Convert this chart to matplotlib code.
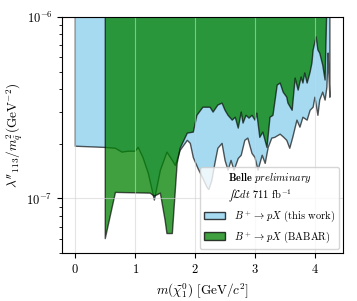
import numpy as np
import matplotlib
matplotlib.use("Agg")
import matplotlib.pyplot as plt
from matplotlib.patches import Patch

plt.rcParams['font.family'] = 'serif'
plt.rcParams['font.serif'] = ['cmr10']
plt.rcParams['mathtext.fontset'] = 'cm'
plt.rcParams['axes.formatter.use_mathtext'] = True

# Belle, this work (upper limit vs mass)
belle_m = [0.00, 0.50, 0.67, 0.78, 0.88, 1.00, 1.05, 1.13, 1.22, 1.32, 1.42, 1.53, 1.62, 1.67,
           1.75, 1.87, 1.92, 1.97, 2.05, 2.13, 2.20, 2.23, 2.28, 2.33, 2.38, 2.45, 2.50, 2.55,
           2.60, 2.65, 2.72, 2.77, 2.83, 2.88, 2.95, 3.00, 3.05, 3.12, 3.17, 3.22, 3.28, 3.33,
           3.42, 3.48, 3.53, 3.58, 3.63, 3.70, 3.75, 3.80, 3.87, 3.92, 3.97, 4.00, 4.05, 4.08,
           4.13, 4.17, 4.20, 4.22, 4.23, 4.25]
belle_lim = [1.94, 1.91, 1.89, 1.80, 1.82, 1.82, 1.91, 1.68, 1.37, 0.98, 1.43, 1.80, 1.62, 1.52,
             1.84, 2.09, 2.01, 1.68, 1.46, 1.29, 1.15, 1.12, 1.26, 1.56, 1.89, 2.01, 1.62, 1.43,
             1.62, 1.43, 1.66, 1.73, 2.09, 2.15, 1.77, 1.68, 1.43, 1.73, 1.56, 1.91, 2.15, 2.17,
             2.26, 2.17, 2.09, 1.89, 2.17, 2.70, 2.47, 2.80, 2.70, 3.06, 3.18, 3.61, 2.87, 3.48,
             3.85, 3.48, 4.10, 6.32, 5.09, 3.61]

# BABAR limit
babar_m = [0.50, 0.67, 1.25, 1.32, 1.42, 1.50, 1.53, 1.62, 1.70, 1.75, 1.87, 1.97, 2.03, 2.13,
           2.25, 2.30, 2.38, 2.45, 2.50, 2.55, 2.62, 2.67, 2.72, 2.77, 2.80, 2.85, 2.90, 2.95,
           3.00, 3.03, 3.08, 3.13, 3.20, 3.25, 3.30, 3.37, 3.42, 3.47, 3.53, 3.55, 3.62, 3.67,
           3.72, 3.77, 3.80, 3.83, 3.87, 3.92, 3.95, 3.97, 4.02, 4.05, 4.08, 4.13, 4.17, 4.20]
babar_lim = [0.601, 1.08, 1.07, 1.03, 1.07, 0.756, 0.641, 0.641, 1.56, 1.89, 2.29, 2.32, 2.87, 3.18,
             3.18, 2.99, 3.27, 3.35, 3.06, 2.87, 2.70, 2.80, 2.44, 2.99, 2.60, 2.87, 2.77, 2.87,
             2.70, 2.95, 2.17, 2.32, 1.91, 2.80, 2.87, 4.21, 4.32, 3.85, 3.61, 3.35, 3.06, 4.60,
             3.95, 4.66, 4.32, 4.91, 4.32, 4.97, 5.57, 6.57, 7.75, 6.57, 6.32, 5.43, 4.49, 12.0]

belle_m = np.array(belle_m)
belle_lim = np.array(belle_lim) * 1e-7
babar_m = np.array(babar_m)
babar_lim = np.array(babar_lim) * 1e-7
top = 1e-5

fig = plt.figure(figsize=(3.57, 3.01), dpi=100)
ax = fig.add_axes([0.174, 0.159, 0.787, 0.785])

edge = (0, 0, 0, 0.65)
ax.fill_between(belle_m, belle_lim, top, facecolor='skyblue', alpha=0.75, lw=0)
ax.fill_between(belle_m, belle_lim, top, facecolor='none', edgecolor=edge, lw=1.0)
ax.fill_between(babar_m, babar_lim, top, facecolor='green', alpha=0.75, lw=0)
ax.fill_between(babar_m, babar_lim, top, facecolor='none', edgecolor=edge, lw=1.0)

ax.set_yscale('log')
ax.set_xlim(-0.22, 4.47)
ax.set_ylim(5e-8, 1e-6)
ax.set_xticks([0, 1, 2, 3, 4])
ax.grid(True, which='major', color='lightgrey', alpha=0.6, lw=0.8)
ax.tick_params(labelsize=9)

ax.set_xlabel(r'$m(\widetilde{\chi}^0_1)$ [GeV$/c^2$]', fontsize=9.5)
ax.set_ylabel(r"$\lambda''_{113}/m^2_{\tilde{q}}(\mathrm{GeV}^{-2})$", fontsize=9.5, labelpad=1)

handles = [Patch(facecolor='skyblue', alpha=0.75, edgecolor='k', lw=1.0),
           Patch(facecolor='green', alpha=0.75, edgecolor='k', lw=1.0)]
labels = [r'$B^+\to pX$ (this work)', r'$B^+\to pX$ (BABAR)']
title = (r'$\mathbf{Belle}$ $\mathit{preliminary}$' + '\n'
         + '$\\mathrm{\u222b}\\mathcal{L}dt$ 711 fb$^{-1}$')
ax.legend(handles, labels, loc='lower right', fontsize=7.5, title_fontsize=7.5,
          title=title, handlelength=2.0, borderaxespad=0.4)

fig.savefig('out.png', dpi=100)
